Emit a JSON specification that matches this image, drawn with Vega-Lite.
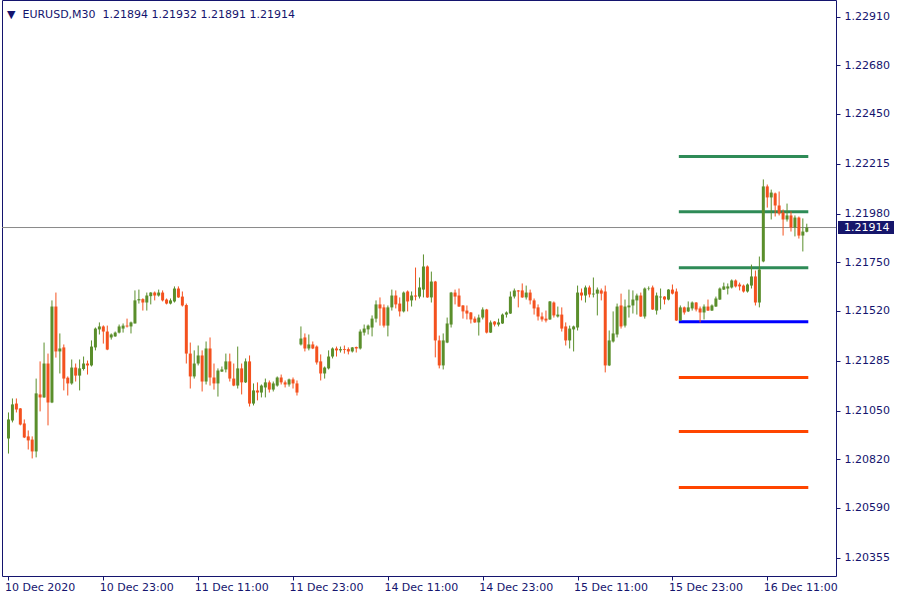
{
  "$schema": "https://vega.github.io/schema/vega-lite/v6.json",
  "width": 834,
  "height": 576,
  "autosize": "none",
  "padding": {"left": 2, "top": 0, "right": 64, "bottom": 24},
  "background": "#ffffff",
  "config": {
    "view": {"stroke": "#14146e", "strokeWidth": 1},
    "font": "DejaVu Sans",
    "axis": {"domain": false, "grid": false, "tickColor": "#14146e", "tickSize": 4, "labelColor": "#14146e", "labelFont": "DejaVu Sans", "labelFontSize": 11}
  },
  "title": {"text": "▼\u00a0\u00a0EURUSD,M30\u00a0\u00a01.21894 1.21932 1.21891 1.21914", "anchor": "start", "frame": "group", "offset": -29, "baseline": "alphabetic", "dx": 5, "font": "DejaVu Sans", "fontSize": 11, "fontWeight": "normal", "color": "#14146e"},
  "datasets": {
    "candles": [
      {"i":0,"o":1.20918,"h":1.21041,"l":1.20847,"c":1.21008},
      {"i":1,"o":1.21003,"h":1.21107,"l":1.20994,"c":1.21079},
      {"i":2,"o":1.21083,"h":1.21107,"l":1.21041,"c":1.21055},
      {"i":3,"o":1.21060,"h":1.21062,"l":1.20980,"c":1.20984},
      {"i":4,"o":1.20989,"h":1.21008,"l":1.20920,"c":1.20923},
      {"i":5,"o":1.20928,"h":1.20956,"l":1.20866,"c":1.20909},
      {"i":6,"o":1.20913,"h":1.20928,"l":1.20824,"c":1.20857},
      {"i":7,"o":1.20857,"h":1.21201,"l":1.20829,"c":1.21131},
      {"i":8,"o":1.21126,"h":1.21282,"l":1.21046,"c":1.21112},
      {"i":9,"o":1.21112,"h":1.21371,"l":1.21110,"c":1.21272},
      {"i":10,"o":1.21272,"h":1.21319,"l":1.20980,"c":1.21088},
      {"i":11,"o":1.21088,"h":1.21570,"l":1.21085,"c":1.21541},
      {"i":12,"o":1.21541,"h":1.21607,"l":1.21300,"c":1.21329},
      {"i":13,"o":1.21329,"h":1.21414,"l":1.21225,"c":1.21343},
      {"i":14,"o":1.21348,"h":1.21362,"l":1.21145,"c":1.21201},
      {"i":15,"o":1.21205,"h":1.21211,"l":1.21121,"c":1.21178},
      {"i":16,"o":1.21178,"h":1.21291,"l":1.21172,"c":1.21253},
      {"i":17,"o":1.21253,"h":1.21272,"l":1.21187,"c":1.21215},
      {"i":18,"o":1.21215,"h":1.21291,"l":1.21145,"c":1.21249},
      {"i":19,"o":1.21246,"h":1.21305,"l":1.21239,"c":1.21272},
      {"i":20,"o":1.21272,"h":1.21286,"l":1.21220,"c":1.21263},
      {"i":21,"o":1.21263,"h":1.21381,"l":1.21258,"c":1.21352},
      {"i":22,"o":1.21348,"h":1.21442,"l":1.21334,"c":1.21437},
      {"i":23,"o":1.21433,"h":1.21466,"l":1.21409,"c":1.21447},
      {"i":24,"o":1.21447,"h":1.21452,"l":1.21366,"c":1.21423},
      {"i":25,"o":1.21423,"h":1.21451,"l":1.21335,"c":1.21338},
      {"i":26,"o":1.21395,"h":1.21414,"l":1.21385,"c":1.21409},
      {"i":27,"o":1.21400,"h":1.21423,"l":1.21398,"c":1.21418},
      {"i":28,"o":1.21418,"h":1.21456,"l":1.21414,"c":1.21447},
      {"i":29,"o":1.21437,"h":1.21461,"l":1.21418,"c":1.21451},
      {"i":30,"o":1.21451,"h":1.21484,"l":1.21442,"c":1.21447},
      {"i":31,"o":1.21447,"h":1.21470,"l":1.21414,"c":1.21466},
      {"i":32,"o":1.21461,"h":1.21617,"l":1.21461,"c":1.21570},
      {"i":33,"o":1.21570,"h":1.21621,"l":1.21555,"c":1.21576},
      {"i":34,"o":1.21576,"h":1.21580,"l":1.21522,"c":1.21560},
      {"i":35,"o":1.21560,"h":1.21607,"l":1.21522,"c":1.21593},
      {"i":36,"o":1.21590,"h":1.21609,"l":1.21551,"c":1.21607},
      {"i":37,"o":1.21607,"h":1.21612,"l":1.21570,"c":1.21593},
      {"i":38,"o":1.21593,"h":1.21621,"l":1.21588,"c":1.21607},
      {"i":39,"o":1.21607,"h":1.21617,"l":1.21565,"c":1.21570},
      {"i":40,"o":1.21574,"h":1.21579,"l":1.21551,"c":1.21555},
      {"i":41,"o":1.21555,"h":1.21579,"l":1.21551,"c":1.21570},
      {"i":42,"o":1.21565,"h":1.21636,"l":1.21560,"c":1.21626},
      {"i":43,"o":1.21626,"h":1.21636,"l":1.21582,"c":1.21584},
      {"i":44,"o":1.21588,"h":1.21612,"l":1.21541,"c":1.21546},
      {"i":45,"o":1.21548,"h":1.21555,"l":1.21272,"c":1.21319},
      {"i":46,"o":1.21319,"h":1.21371,"l":1.21154,"c":1.21211},
      {"i":47,"o":1.21211,"h":1.21334,"l":1.21201,"c":1.21272},
      {"i":48,"o":1.21272,"h":1.21357,"l":1.21263,"c":1.21310},
      {"i":49,"o":1.21310,"h":1.21334,"l":1.21140,"c":1.21187},
      {"i":50,"o":1.21187,"h":1.21376,"l":1.21173,"c":1.21343},
      {"i":51,"o":1.21343,"h":1.21395,"l":1.21168,"c":1.21206},
      {"i":52,"o":1.21206,"h":1.21272,"l":1.21149,"c":1.21178},
      {"i":53,"o":1.21178,"h":1.21249,"l":1.21116,"c":1.21239},
      {"i":54,"o":1.21234,"h":1.21258,"l":1.21232,"c":1.21244},
      {"i":55,"o":1.21244,"h":1.21319,"l":1.21230,"c":1.21282},
      {"i":56,"o":1.21282,"h":1.21319,"l":1.21187,"c":1.21201},
      {"i":57,"o":1.21201,"h":1.21272,"l":1.21165,"c":1.21168},
      {"i":58,"o":1.21168,"h":1.21352,"l":1.21154,"c":1.21249},
      {"i":59,"o":1.21249,"h":1.21272,"l":1.21126,"c":1.21183},
      {"i":60,"o":1.21183,"h":1.21296,"l":1.21180,"c":1.21282},
      {"i":61,"o":1.21282,"h":1.21310,"l":1.21069,"c":1.21083},
      {"i":62,"o":1.21083,"h":1.21178,"l":1.21074,"c":1.21145},
      {"i":63,"o":1.21145,"h":1.21183,"l":1.21098,"c":1.21135},
      {"i":64,"o":1.21135,"h":1.21173,"l":1.21112,"c":1.21168},
      {"i":65,"o":1.21159,"h":1.21201,"l":1.21112,"c":1.21183},
      {"i":66,"o":1.21183,"h":1.21192,"l":1.21135,"c":1.21149},
      {"i":67,"o":1.21149,"h":1.21187,"l":1.21140,"c":1.21178},
      {"i":68,"o":1.21168,"h":1.21211,"l":1.21163,"c":1.21206},
      {"i":69,"o":1.21206,"h":1.21220,"l":1.21173,"c":1.21183},
      {"i":70,"o":1.21183,"h":1.21192,"l":1.21159,"c":1.21173},
      {"i":71,"o":1.21173,"h":1.21201,"l":1.21163,"c":1.21197},
      {"i":72,"o":1.21197,"h":1.21206,"l":1.21154,"c":1.21178},
      {"i":73,"o":1.21178,"h":1.21192,"l":1.21121,"c":1.21135},
      {"i":74,"o":1.21362,"h":1.21447,"l":1.21357,"c":1.21390},
      {"i":75,"o":1.21395,"h":1.21414,"l":1.21329,"c":1.21343},
      {"i":76,"o":1.21343,"h":1.21409,"l":1.21334,"c":1.21362},
      {"i":77,"o":1.21362,"h":1.21376,"l":1.21340,"c":1.21343},
      {"i":78,"o":1.21352,"h":1.21357,"l":1.21267,"c":1.21277},
      {"i":79,"o":1.21282,"h":1.21315,"l":1.21192,"c":1.21225},
      {"i":80,"o":1.21225,"h":1.21258,"l":1.21201,"c":1.21253},
      {"i":81,"o":1.21249,"h":1.21334,"l":1.21244,"c":1.21305},
      {"i":82,"o":1.21305,"h":1.21348,"l":1.21296,"c":1.21343},
      {"i":83,"o":1.21343,"h":1.21352,"l":1.21305,"c":1.21334},
      {"i":84,"o":1.21334,"h":1.21352,"l":1.21324,"c":1.21340},
      {"i":85,"o":1.21340,"h":1.21357,"l":1.21319,"c":1.21336},
      {"i":86,"o":1.21340,"h":1.21348,"l":1.21315,"c":1.21329},
      {"i":87,"o":1.21329,"h":1.21350,"l":1.21324,"c":1.21348},
      {"i":88,"o":1.21350,"h":1.21352,"l":1.21324,"c":1.21343},
      {"i":89,"o":1.21343,"h":1.21433,"l":1.21338,"c":1.21423},
      {"i":90,"o":1.21418,"h":1.21456,"l":1.21404,"c":1.21437},
      {"i":91,"o":1.21433,"h":1.21456,"l":1.21409,"c":1.21451},
      {"i":92,"o":1.21442,"h":1.21499,"l":1.21400,"c":1.21484},
      {"i":93,"o":1.21484,"h":1.21570,"l":1.21466,"c":1.21551},
      {"i":94,"o":1.21551,"h":1.21584,"l":1.21451,"c":1.21532},
      {"i":95,"o":1.21537,"h":1.21551,"l":1.21442,"c":1.21451},
      {"i":96,"o":1.21451,"h":1.21546,"l":1.21400,"c":1.21537},
      {"i":97,"o":1.21537,"h":1.21621,"l":1.21522,"c":1.21593},
      {"i":98,"o":1.21593,"h":1.21617,"l":1.21532,"c":1.21551},
      {"i":99,"o":1.21555,"h":1.21584,"l":1.21494,"c":1.21518},
      {"i":100,"o":1.21518,"h":1.21612,"l":1.21513,"c":1.21607},
      {"i":101,"o":1.21612,"h":1.21617,"l":1.21518,"c":1.21565},
      {"i":102,"o":1.21570,"h":1.21612,"l":1.21541,"c":1.21593},
      {"i":103,"o":1.21593,"h":1.21725,"l":1.21570,"c":1.21588},
      {"i":104,"o":1.21588,"h":1.21678,"l":1.21579,"c":1.21631},
      {"i":105,"o":1.21621,"h":1.21787,"l":1.21584,"c":1.21730},
      {"i":106,"o":1.21730,"h":1.21735,"l":1.21582,"c":1.21584},
      {"i":107,"o":1.21584,"h":1.21706,"l":1.21560,"c":1.21659},
      {"i":108,"o":1.21659,"h":1.21662,"l":1.21301,"c":1.21381},
      {"i":109,"o":1.21381,"h":1.21404,"l":1.21249,"c":1.21263},
      {"i":110,"o":1.21263,"h":1.21414,"l":1.21244,"c":1.21381},
      {"i":111,"o":1.21371,"h":1.21489,"l":1.21368,"c":1.21461},
      {"i":112,"o":1.21456,"h":1.21610,"l":1.21442,"c":1.21607},
      {"i":113,"o":1.21607,"h":1.21621,"l":1.21551,"c":1.21588},
      {"i":114,"o":1.21593,"h":1.21626,"l":1.21539,"c":1.21541},
      {"i":115,"o":1.21546,"h":1.21548,"l":1.21484,"c":1.21518},
      {"i":116,"o":1.21522,"h":1.21546,"l":1.21480,"c":1.21508},
      {"i":117,"o":1.21513,"h":1.21515,"l":1.21461,"c":1.21480},
      {"i":118,"o":1.21484,"h":1.21494,"l":1.21464,"c":1.21466},
      {"i":119,"o":1.21466,"h":1.21503,"l":1.21404,"c":1.21489},
      {"i":120,"o":1.21489,"h":1.21537,"l":1.21480,"c":1.21527},
      {"i":121,"o":1.21527,"h":1.21530,"l":1.21414,"c":1.21418},
      {"i":122,"o":1.21418,"h":1.21475,"l":1.21416,"c":1.21466},
      {"i":123,"o":1.21470,"h":1.21472,"l":1.21447,"c":1.21456},
      {"i":124,"o":1.21456,"h":1.21484,"l":1.21447,"c":1.21466},
      {"i":125,"o":1.21461,"h":1.21508,"l":1.21459,"c":1.21503},
      {"i":126,"o":1.21503,"h":1.21518,"l":1.21489,"c":1.21513},
      {"i":127,"o":1.21508,"h":1.21612,"l":1.21506,"c":1.21588},
      {"i":128,"o":1.21588,"h":1.21626,"l":1.21579,"c":1.21617},
      {"i":129,"o":1.21617,"h":1.21619,"l":1.21537,"c":1.21612},
      {"i":130,"o":1.21617,"h":1.21650,"l":1.21582,"c":1.21584},
      {"i":131,"o":1.21584,"h":1.21640,"l":1.21574,"c":1.21607},
      {"i":132,"o":1.21607,"h":1.21621,"l":1.21551,"c":1.21570},
      {"i":133,"o":1.21570,"h":1.21579,"l":1.21503,"c":1.21532},
      {"i":134,"o":1.21537,"h":1.21551,"l":1.21475,"c":1.21494},
      {"i":135,"o":1.21494,"h":1.21513,"l":1.21470,"c":1.21480},
      {"i":136,"o":1.21484,"h":1.21522,"l":1.21466,"c":1.21475},
      {"i":137,"o":1.21480,"h":1.21567,"l":1.21478,"c":1.21565},
      {"i":138,"o":1.21560,"h":1.21565,"l":1.21489,"c":1.21499},
      {"i":139,"o":1.21494,"h":1.21541,"l":1.21489,"c":1.21503},
      {"i":140,"o":1.21503,"h":1.21537,"l":1.21423,"c":1.21437},
      {"i":141,"o":1.21447,"h":1.21466,"l":1.21357,"c":1.21381},
      {"i":142,"o":1.21381,"h":1.21451,"l":1.21343,"c":1.21437},
      {"i":143,"o":1.21433,"h":1.21451,"l":1.21329,"c":1.21447},
      {"i":144,"o":1.21442,"h":1.21640,"l":1.21428,"c":1.21607},
      {"i":145,"o":1.21607,"h":1.21626,"l":1.21570,"c":1.21593},
      {"i":146,"o":1.21593,"h":1.21640,"l":1.21560,"c":1.21631},
      {"i":147,"o":1.21631,"h":1.21640,"l":1.21584,"c":1.21598},
      {"i":148,"o":1.21598,"h":1.21678,"l":1.21584,"c":1.21602},
      {"i":149,"o":1.21602,"h":1.21631,"l":1.21499,"c":1.21621},
      {"i":150,"o":1.21617,"h":1.21626,"l":1.21570,"c":1.21602},
      {"i":151,"o":1.21612,"h":1.21640,"l":1.21230,"c":1.21263},
      {"i":152,"o":1.21263,"h":1.21428,"l":1.21260,"c":1.21381},
      {"i":153,"o":1.21376,"h":1.21518,"l":1.21371,"c":1.21414},
      {"i":154,"o":1.21409,"h":1.21555,"l":1.21395,"c":1.21541},
      {"i":155,"o":1.21546,"h":1.21602,"l":1.21437,"c":1.21447},
      {"i":156,"o":1.21451,"h":1.21574,"l":1.21442,"c":1.21541},
      {"i":157,"o":1.21537,"h":1.21621,"l":1.21489,"c":1.21546},
      {"i":158,"o":1.21546,"h":1.21617,"l":1.21508,"c":1.21574},
      {"i":159,"o":1.21570,"h":1.21602,"l":1.21503,"c":1.21593},
      {"i":160,"o":1.21593,"h":1.21607,"l":1.21492,"c":1.21494},
      {"i":161,"o":1.21494,"h":1.21631,"l":1.21484,"c":1.21626},
      {"i":162,"o":1.21626,"h":1.21636,"l":1.21617,"c":1.21628},
      {"i":163,"o":1.21631,"h":1.21640,"l":1.21525,"c":1.21527},
      {"i":164,"o":1.21522,"h":1.21607,"l":1.21503,"c":1.21593},
      {"i":165,"o":1.21584,"h":1.21626,"l":1.21527,"c":1.21588},
      {"i":166,"o":1.21588,"h":1.21590,"l":1.21551,"c":1.21574},
      {"i":167,"o":1.21574,"h":1.21623,"l":1.21570,"c":1.21621},
      {"i":168,"o":1.21621,"h":1.21645,"l":1.21598,"c":1.21602},
      {"i":169,"o":1.21612,"h":1.21626,"l":1.21473,"c":1.21475},
      {"i":170,"o":1.21475,"h":1.21546,"l":1.21473,"c":1.21537},
      {"i":171,"o":1.21537,"h":1.21541,"l":1.21503,"c":1.21513},
      {"i":172,"o":1.21518,"h":1.21565,"l":1.21515,"c":1.21537},
      {"i":173,"o":1.21532,"h":1.21565,"l":1.21522,"c":1.21560},
      {"i":174,"o":1.21560,"h":1.21562,"l":1.21518,"c":1.21527},
      {"i":175,"o":1.21532,"h":1.21541,"l":1.21466,"c":1.21513},
      {"i":176,"o":1.21513,"h":1.21551,"l":1.21480,"c":1.21541},
      {"i":177,"o":1.21541,"h":1.21574,"l":1.21520,"c":1.21522},
      {"i":178,"o":1.21522,"h":1.21551,"l":1.21520,"c":1.21546},
      {"i":179,"o":1.21541,"h":1.21588,"l":1.21539,"c":1.21579},
      {"i":180,"o":1.21574,"h":1.21631,"l":1.21572,"c":1.21626},
      {"i":181,"o":1.21621,"h":1.21654,"l":1.21619,"c":1.21636},
      {"i":182,"o":1.21626,"h":1.21650,"l":1.21598,"c":1.21636},
      {"i":183,"o":1.21631,"h":1.21669,"l":1.21626,"c":1.21664},
      {"i":184,"o":1.21664,"h":1.21669,"l":1.21631,"c":1.21636},
      {"i":185,"o":1.21645,"h":1.21654,"l":1.21617,"c":1.21636},
      {"i":186,"o":1.21640,"h":1.21645,"l":1.21607,"c":1.21612},
      {"i":187,"o":1.21612,"h":1.21650,"l":1.21607,"c":1.21645},
      {"i":188,"o":1.21640,"h":1.21739,"l":1.21626,"c":1.21683},
      {"i":189,"o":1.21683,"h":1.21711,"l":1.21546,"c":1.21560},
      {"i":190,"o":1.21560,"h":1.21777,"l":1.21537,"c":1.21716},
      {"i":191,"o":1.21754,"h":1.22141,"l":1.21750,"c":1.22108},
      {"i":192,"o":1.22108,"h":1.22117,"l":1.22008,"c":1.22056},
      {"i":193,"o":1.22056,"h":1.22093,"l":1.21952,"c":1.22079},
      {"i":194,"o":1.22075,"h":1.22079,"l":1.21966,"c":1.22018},
      {"i":195,"o":1.22018,"h":1.22084,"l":1.21971,"c":1.21980},
      {"i":196,"o":1.21985,"h":1.21999,"l":1.21876,"c":1.21952},
      {"i":197,"o":1.21952,"h":1.22027,"l":1.21942,"c":1.21971},
      {"i":198,"o":1.21971,"h":1.21990,"l":1.21895,"c":1.21914},
      {"i":199,"o":1.21914,"h":1.21971,"l":1.21872,"c":1.21961},
      {"i":200,"o":1.21961,"h":1.21966,"l":1.21862,"c":1.21876},
      {"i":201,"o":1.21876,"h":1.21957,"l":1.21801,"c":1.21895},
      {"i":202,"o":1.21894,"h":1.21932,"l":1.21891,"c":1.21914}
    ],
    "levels": [
      {"name":"R3","kind":"R","price":1.22249,"from":170,"to":202},
      {"name":"R2","kind":"R","price":1.21988,"from":170,"to":202},
      {"name":"R1","kind":"R","price":1.21724,"from":170,"to":202},
      {"name":"PP","kind":"P","price":1.21469,"from":170,"to":202},
      {"name":"S1","kind":"S","price":1.21206,"from":170,"to":202},
      {"name":"S2","kind":"S","price":1.20951,"from":170,"to":202},
      {"name":"S3","kind":"S","price":1.20687,"from":170,"to":202}
    ],
    "last": [{"price": 1.21914, "label": "1.21914"}]
  },
  "layer": [
    {
      "data": {"name": "levels"},
      "mark": {"type": "rule", "strokeWidth": 3, "strokeCap": "square"},
      "encoding": {
        "x": {"field": "from", "type": "quantitative", "scale": {"domain": [-0.375, 208.125], "zero": false, "nice": false},
          "axis": {"orient": "bottom", "title": null, "values": [0, 24, 48, 72, 96, 120, 144, 168, 192], "labelExpr": "datum.value==0?'10 Dec 2020':datum.value==24?'10 Dec 23:00':datum.value==48?'11 Dec 11:00':datum.value==72?'11 Dec 23:00':datum.value==96?'14 Dec 11:00':datum.value==120?'14 Dec 23:00':datum.value==144?'15 Dec 11:00':datum.value==168?'15 Dec 23:00':'16 Dec 11:00'", "labelAlign": "left", "labelOffset": -4, "labelPadding": 1, "tickSize": 4, "labelOverlap": false, "labelFlush": false}},
        "x2": {"field": "to"},
        "y": {"field": "price", "type": "quantitative", "scale": {"domain": [1.20269, 1.22988], "zero": false, "nice": false},
          "axis": {"orient": "right", "title": null, "values": [1.22910, 1.22680, 1.22450, 1.22215, 1.21980, 1.21750, 1.21520, 1.21285, 1.21050, 1.20820, 1.20590, 1.20355], "format": ".5f", "labelPadding": 4, "tickSize": 4, "labelOverlap": false, "labelFlush": false, "labelBaseline": "middle"}},
        "color": {"field": "kind", "type": "nominal", "scale": {"domain": ["R", "P", "S"], "range": ["#2e8b57", "#0000ff", "#ff4500"]}, "legend": null}
      }
    },
    {
      "data": {"name": "last"},
      "mark": {"type": "rule", "color": "#8a8a8a", "strokeWidth": 1},
      "encoding": {
        "y": {"field": "price", "type": "quantitative"}
      }
    },
    {
      "data": {"name": "candles"},
      "mark": {"type": "rule", "strokeWidth": 1},
      "encoding": {
        "x": {"field": "i", "type": "quantitative"},
        "y": {"field": "l", "type": "quantitative"},
        "y2": {"field": "h"},
        "color": {"condition": {"test": "datum.c >= datum.o", "value": "#5a8e2b"}, "value": "#f4511e"}
      }
    },
    {
      "data": {"name": "candles"},
      "mark": {"type": "bar", "size": 3},
      "encoding": {
        "x": {"field": "i", "type": "quantitative"},
        "y": {"field": "o", "type": "quantitative"},
        "y2": {"field": "c"},
        "color": {"condition": {"test": "datum.c >= datum.o", "value": "#5a8e2b"}, "value": "#f4511e"}
      }
    },
    {
      "data": {"name": "last"},
      "mark": {"type": "rect", "color": "#16166b", "xOffset": 2, "x2Offset": 58, "yOffset": -6.5, "y2Offset": 6.5},
      "encoding": {
        "x": {"value": "width"},
        "x2": {"value": "width"},
        "y": {"field": "price", "type": "quantitative"},
        "y2": {"field": "price"}
      }
    },
    {
      "data": {"name": "last"},
      "mark": {"type": "text", "color": "#ffffff", "align": "left", "baseline": "middle", "dx": 8, "font": "DejaVu Sans", "fontSize": 11},
      "encoding": {
        "x": {"value": "width"},
        "y": {"field": "price", "type": "quantitative"},
        "text": {"field": "label"}
      }
    }
  ]
}
